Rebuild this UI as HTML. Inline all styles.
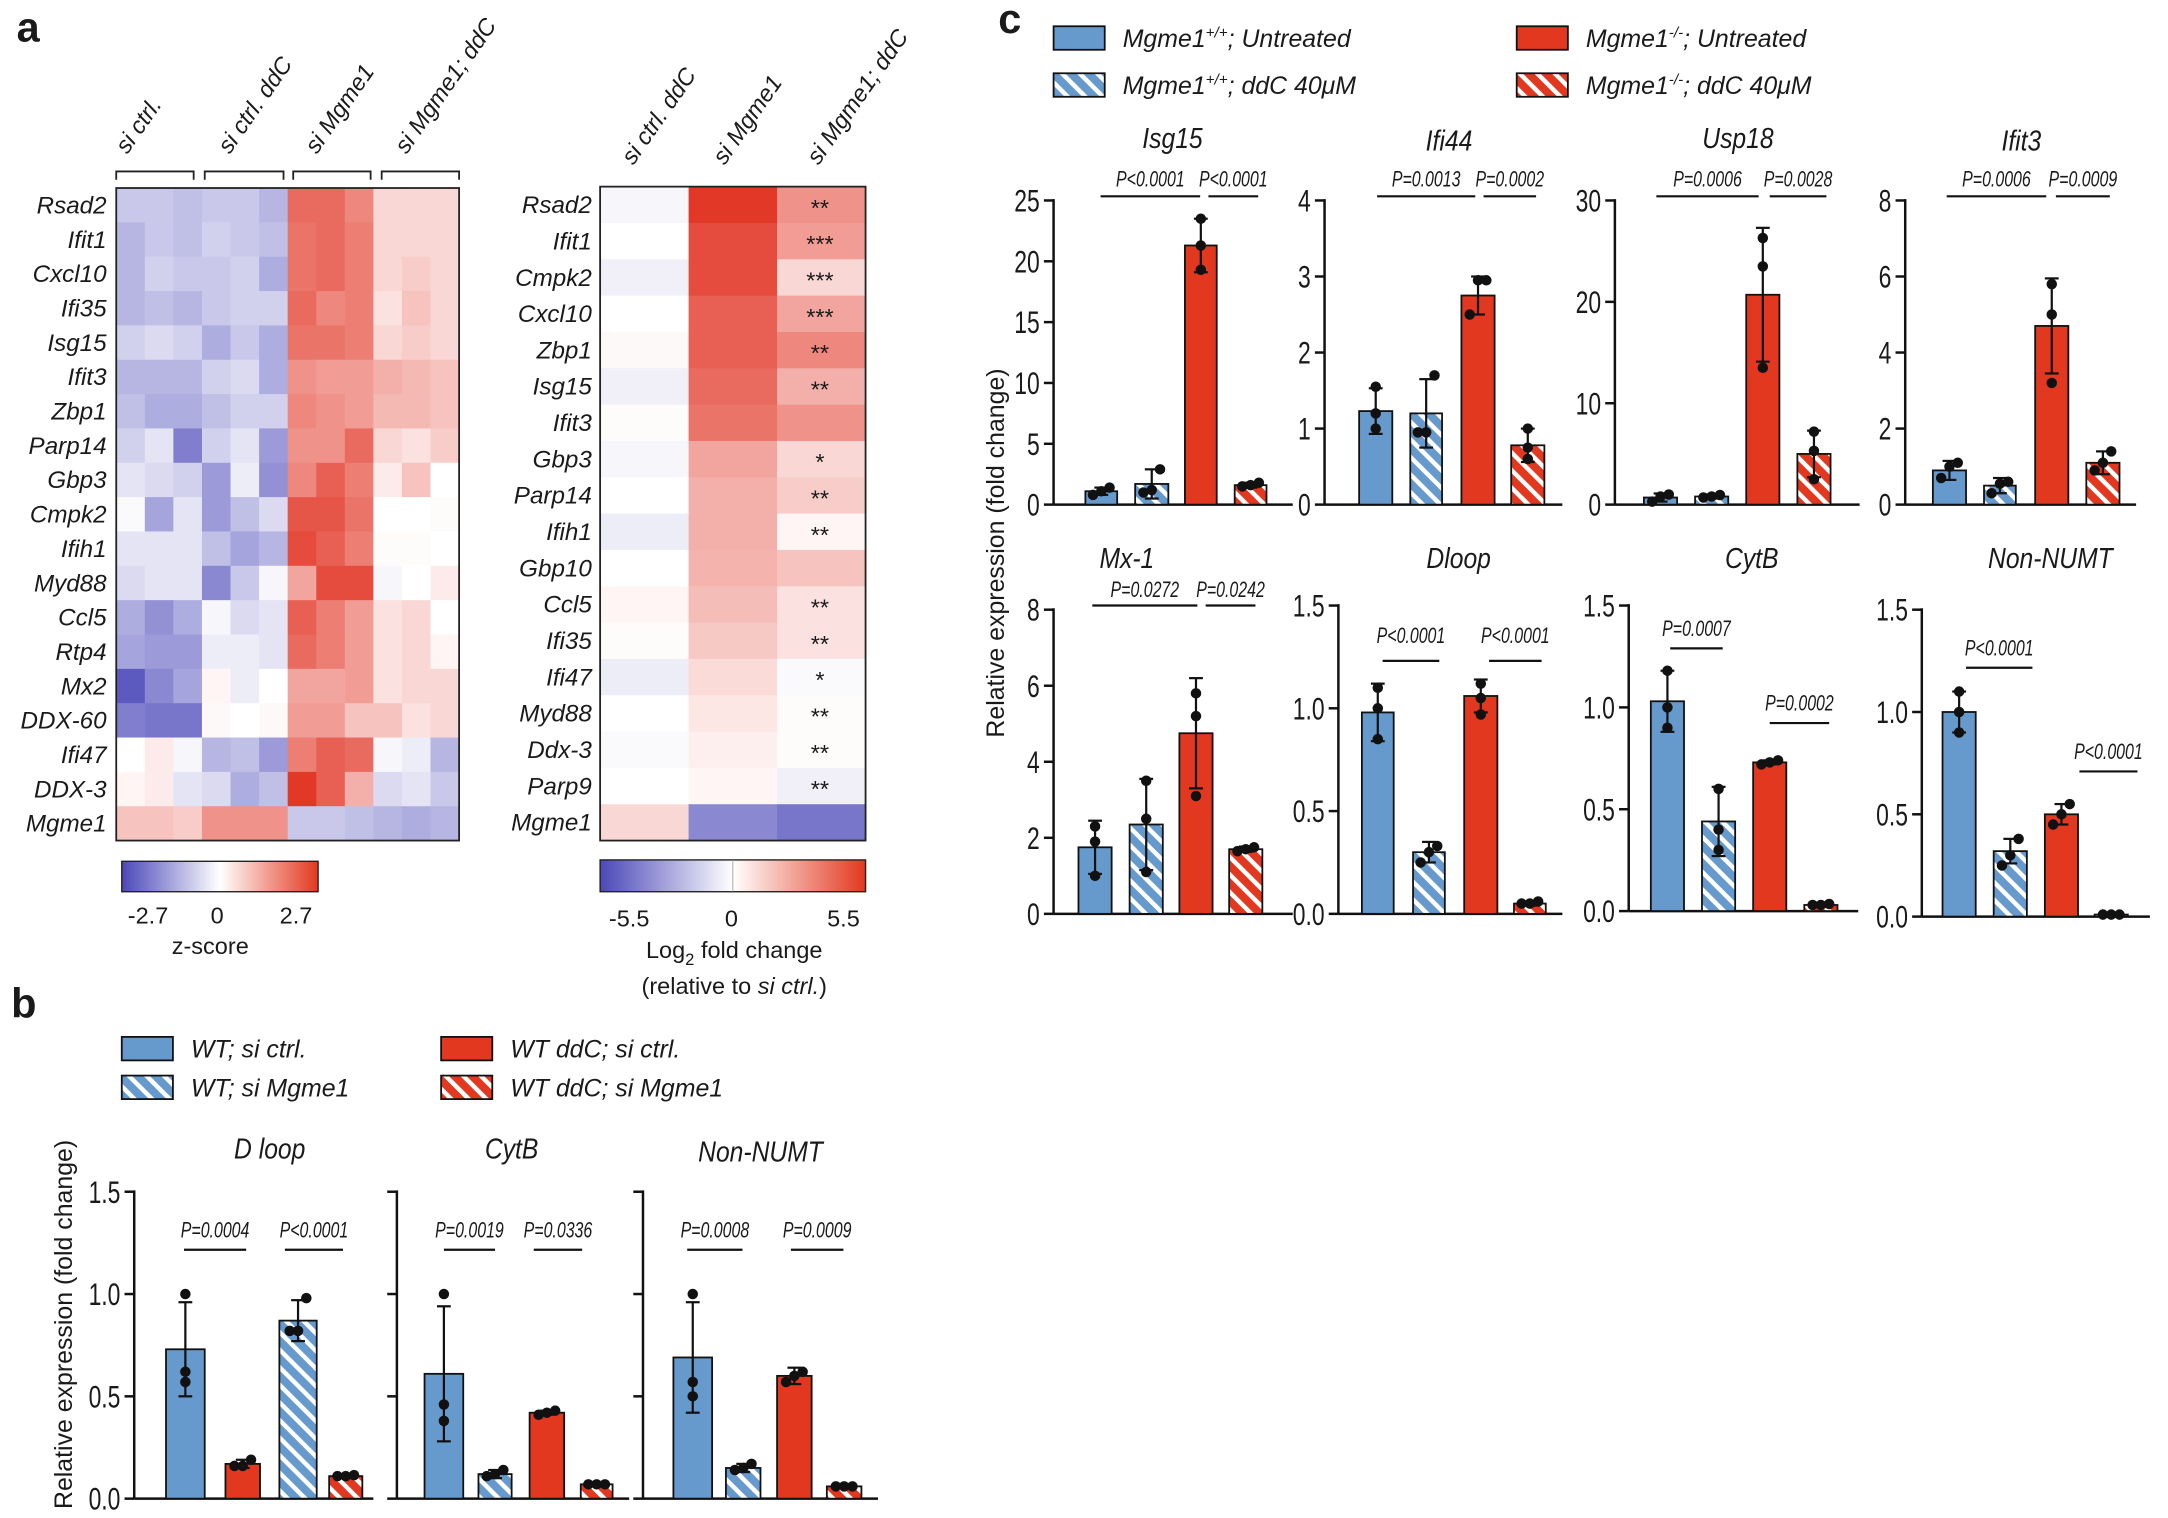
<!DOCTYPE html>
<html><head><meta charset="utf-8"><style>
html,body{margin:0;padding:0;background:#fff}
svg{display:block}
text{font-family:"Liberation Sans",Arial,sans-serif;fill:#1a1a1a}
</style></head><body>
<svg id="s" width="2168" height="1518" viewBox="0 0 1568 1098" xmlns="http://www.w3.org/2000/svg">
<defs>
<pattern id="hb" width="9" height="9" patternUnits="userSpaceOnUse" patternTransform="rotate(-45)">
<rect width="9" height="9" fill="#6699cc"/><rect x="0" y="0" width="3.2" height="9" fill="#fff"/></pattern>
<pattern id="hr" width="9" height="9" patternUnits="userSpaceOnUse" patternTransform="rotate(-45)">
<rect width="9" height="9" fill="#e2381f"/><rect x="0" y="0" width="3.2" height="9" fill="#fff"/></pattern>
<linearGradient id="cb" x1="0" x2="1" y1="0" y2="0">
<stop offset="0" stop-color="#4b48b8"/><stop offset="0.5" stop-color="#ffffff"/><stop offset="1" stop-color="#e2381f"/></linearGradient>
</defs>
<g id="g"></g>
</svg>
<script>
var out=[];
function T(x,y,s,sz,opt){opt=opt||{};var tr=opt.t;var px=x,py=y;
 if(opt.sx){tr='translate('+x+' '+y+') scale('+opt.sx+' 1)';px=0;py=0;}
 out.push('<text x="'+px+'" y="'+py+'" font-size="'+sz+'"'+(opt.a?' text-anchor="'+opt.a+'"':'')+(opt.i?' font-style="italic"':'')+(opt.b?' font-weight="bold"':'')+(tr?' transform="'+tr+'"':'')+'>'+s+'</text>');}
function L(x1,y1,x2,y2,w){out.push('<line x1="'+x1+'" y1="'+y1+'" x2="'+x2+'" y2="'+y2+'" stroke="#111" stroke-width="'+(w||1.6)+'"/>');}
function R(x,y,w,h,f,st){out.push('<rect x="'+x+'" y="'+y+'" width="'+w+'" height="'+h+'" fill="'+f+'"'+(st?' stroke="#111" stroke-width="1.3"':'')+'/>');}
function col(v){var e=v>=0?[226,56,40]:[75,72,184];var a=Math.min(1,Math.abs(v));return 'rgb('+e.map(function(c){return Math.round(255+(c-255)*a)}).join(',')+')';}
T(12,30,'a',30,{b:1});T(8,736,'b',30,{b:1});T(722,24,'c',30,{b:1});
var ga=['Rsad2','Ifit1','Cxcl10','Ifi35','Isg15','Ifit3','Zbp1','Parp14','Gbp3','Cmpk2','Ifih1','Myd88','Ccl5','Rtp4','Mx2','DDX-60','Ifi47','DDX-3','Mgme1'];
var da=[
[-.3,-.3,-.35,-.3,-.3,-.4,.75,.75,.6,.2,.2,.2],
[-.4,-.3,-.35,-.25,-.3,-.35,.7,.75,.65,.2,.2,.2],
[-.4,-.25,-.3,-.3,-.25,-.45,.7,.75,.65,.2,.25,.2],
[-.4,-.35,-.4,-.3,-.25,-.25,.75,.6,.65,.15,.3,.2],
[-.25,-.2,-.25,-.45,-.3,-.45,.7,.7,.65,.2,.25,.2],
[-.4,-.4,-.4,-.25,-.2,-.45,.55,.5,.5,.4,.35,.3],
[-.35,-.45,-.45,-.35,-.25,-.25,.6,.55,.5,.35,.35,.3],
[-.25,-.15,-.7,-.25,-.15,-.55,.55,.55,.75,.2,.15,.25],
[-.15,-.2,-.25,-.55,-.1,-.6,.6,.8,.65,.1,.3,0],
[-.03,-.5,-.15,-.55,-.35,-.2,.85,.85,.7,0,0,.02],
[-.15,-.15,-.15,-.35,-.5,-.4,.9,.8,.65,.02,.02,0],
[-.2,-.15,-.15,-.65,-.3,-.05,.45,.9,.9,-.05,0,.1],
[-.45,-.6,-.45,-.05,-.2,-.15,.8,.65,.5,.15,.2,0],
[-.5,-.55,-.55,-.1,-.1,-.15,.75,.65,.5,.15,.2,.05],
[-.9,-.65,-.5,.05,-.1,0,.45,.45,.5,.15,.2,.2],
[-.7,-.75,-.75,.03,0,.03,.5,.5,.3,.3,.15,.2],
[0,.1,-.05,-.4,-.35,-.55,.65,.8,.75,-.05,-.1,-.4],
[.05,.1,-.15,-.2,-.45,-.35,1,.8,.4,-.2,-.15,-.3],
[.3,.3,.25,.55,.55,.55,-.3,-.3,-.35,-.4,-.45,-.4]];
var ax0=84,ay0=136,cw=248/12,rh=472/19;
for(var r=0;r<19;r++){for(var c=0;c<12;c++)R((ax0+c*cw).toFixed(2),(ay0+r*rh).toFixed(2),(cw+.4).toFixed(2),(rh+.4).toFixed(2),col(da[r][c]));
T(77,ay0+r*rh+rh/2+6,ga[r],17.5,{a:'end',i:1});}
out.push('<rect x="84" y="136" width="248" height="472" fill="none" stroke="#222" stroke-width="1.3"/>');
[[84,140],[148,205],[212,268],[276,332]].forEach(function(b){out.push('<path d="M'+b[0]+' 130 V124 H'+b[1]+' V130" fill="none" stroke="#222" stroke-width="1.3"/>');});
[['si ctrl.',92,112],['si ctrl. ddC',166,112],['si Mgme1',229,112],['si Mgme1; ddC',294,112]].forEach(function(l){T(l[1],l[2],l[0],17,{i:1,t:'rotate(-55 '+l[1]+' '+l[2]+')'});});
R(88,623,142,22,'url(#cb)');out.push('<rect x="88" y="623" width="142" height="22" fill="none" stroke="#222" stroke-width="1"/>');
T(107,668,'-2.7',17,{a:'middle'});T(157,668,'0',17,{a:'middle'});T(214,668,'2.7',17,{a:'middle'});T(152,690,'z-score',17,{a:'middle'});
var gb=['Rsad2','Ifit1','Cmpk2','Cxcl10','Zbp1','Isg15','Ifit3','Gbp3','Parp14','Ifih1','Gbp10','Ccl5','Ifi35','Ifi47','Myd88','Ddx-3','Parp9','Mgme1'];
var db=[[-.05,1,.55],[0,.9,.5],[-.08,.9,.2],[0,.8,.45],[.03,.8,.6],[-.08,.75,.4],[.02,.7,.55],[-.05,.45,.2],[0,.4,.25],[-.1,.4,.05],[0,.38,.3],[.05,.33,.15],[.02,.27,.15],[-.1,.18,-.03],[0,.12,.02],[-.03,.08,.02],[0,.05,-.08],[.2,-.65,-.75]];
var st=['**','***','***','***','**','**','','*','**','**','','**','**','*','**','**','**',''];
var bx0=434,by0=135,bw=192/3,bh=473/18;
for(r=0;r<18;r++){for(c=0;c<3;c++)R((bx0+c*bw).toFixed(2),(by0+r*bh).toFixed(2),(bw+.4).toFixed(2),(bh+.4).toFixed(2),col(db[r][c]));
T(428,by0+r*bh+bh/2+6,gb[r],17.5,{a:'end',i:1});
if(st[r])T(593,by0+r*bh+bh/2+8,st[r],17,{a:'middle'});}
out.push('<rect x="434" y="135" width="192" height="473" fill="none" stroke="#222" stroke-width="1.3"/>');
[['si ctrl. ddC',458,120],['si Mgme1',524,120],['si Mgme1; ddC',592,120]].forEach(function(l){T(l[1],l[2],l[0],17,{i:1,t:'rotate(-55 '+l[1]+' '+l[2]+')'});});
R(434,622,192,23,'url(#cb)');out.push('<rect x="434" y="622" width="192" height="23" fill="none" stroke="#222" stroke-width="1"/>');
out.push('<line x1="530" y1="622" x2="530" y2="645" stroke="#999" stroke-width="0.6"/>');
T(455,670,'-5.5',17,{a:'middle'});T(529,670,'0',17,{a:'middle'});T(610,670,'5.5',17,{a:'middle'});
out.push('<text x="531" y="693" font-size="17" text-anchor="middle">Log<tspan font-size="12" dy="5">2</tspan><tspan dy="-5"> fold change</tspan></text>');
out.push('<text x="531" y="719" font-size="17" text-anchor="middle">(relative to <tspan font-style="italic">si ctrl.</tspan>)</text>');
var F={b:'#6699cc',bh:'url(#hb)',r:'#e2381f',rh:'url(#hr)'};
function chart(o){
 var sc=(o.y0-o.yt)/o.max;function Y(v){return o.y0-v*sc;}
 L(o.ax,o.yt-1,o.ax,o.y0,1.8);L(o.ax,o.y0,o.xe,o.y0,1.8);
 o.ticks.forEach(function(t){L(o.ax-7,Y(t),o.ax,Y(t),1.8);if(!o.nolab)T(o.ax-10,Y(t)+8,o.fmt?t.toFixed(1):t,23,{a:'end',sx:0.72});});
 o.bars.forEach(function(b){var x=b[0],w=b[1]-b[0],cx=(b[0]+b[1])/2,v=b[3];
  R(x,Y(v),w,o.y0-Y(v),F[b[2]],1);
  var e=b[4];if(e){L(cx,Y(v-e),cx,Y(v+e),1.6);L(cx-5,Y(v+e),cx+5,Y(v+e),1.6);L(cx-5,Y(v-e),cx+5,Y(v-e),1.6);}
  var p=b[5]||[v*.95,v,v*1.05];var dx=[-6,0,6];
  p.forEach(function(pv,i){out.push('<circle cx="'+(cx+(b[6]?dx[i]:0))+'" cy="'+Y(pv)+'" r="3.8" fill="#111"/>');});
 });
 T(o.tx,o.ty,o.title,21,{a:'middle',i:1,sx:0.85});
 o.sig.forEach(function(s){L(s[0],s[2],s[1],s[2],1.6);T((s[0]+s[1])/2,s[3],s[4],16,{a:'middle',i:1,sx:0.72});});
}
chart({ax:762,y0:365,yt:145,max:25,ticks:[0,5,10,15,20,25],xe:935,title:'Isg15',tx:848,ty:107,
 bars:[[785,808,'b',1.1,.3,[.8,1.1,1.4],1],[821,845,'bh',1.7,1.2,[1,1.2,2.9],1],[857,880,'r',21.3,2.2,[19.3,21.3,23.5]],[893,916,'rh',1.6,.2,[1.5,1.6,1.8],1]],
 sig:[[796,868,142,135,'P&lt;0.0001'],[874,910,142,135,'P&lt;0.0001']]});
chart({ax:958,y0:365,yt:145,max:4,ticks:[0,1,2,3,4],xe:1130,title:'Ifi44',tx:1048,ty:109,
 bars:[[983,1007,'b',1.23,.3,[1,1.2,1.55]],[1020,1043,'bh',1.2,.45,[.95,.95,1.7],1],[1057,1081,'r',2.75,.25,[2.5,2.95,2.95],1],[1093,1117,'rh',.78,.22,[.6,.75,1.0]]],
 sig:[[996,1067,142,135,'P=0.0013'],[1073,1111,142,135,'P=0.0002']]});
chart({ax:1168,y0:365,yt:145,max:30,ticks:[0,10,20,30],xe:1345,title:'Usp18',tx:1257,ty:107,
 bars:[[1189,1213,'b',.7,.4,[.3,.8,1],1],[1226,1250,'bh',.8,.2,[.7,.8,.95],1],[1263,1287,'r',20.7,6.6,[13.5,23.5,26.3]],[1300,1324,'rh',5,2.3,[2.5,5.3,7.2]]],
 sig:[[1198,1272,142,135,'P=0.0006'],[1280,1321,142,135,'P=0.0028']]});
chart({ax:1378,y0:365,yt:145,max:8,ticks:[0,2,4,6,8],xe:1545,title:'Ifit3',tx:1462,ty:109,
 bars:[[1398,1422,'b',.9,.25,[.7,1,1.1],1],[1435,1458,'bh',.5,.2,[.3,.55,.6],1],[1472,1496,'r',4.7,1.25,[3.2,5.0,5.8]],[1509,1533,'rh',1.1,.3,[.9,1.1,1.4],1]],
 sig:[[1408,1480,142,135,'P=0.0006'],[1487,1526,142,135,'P=0.0009']]});
chart({ax:762,y0:661,yt:441,max:8,ticks:[0,2,4,6,8],xe:935,title:'Mx-1',tx:815,ty:411,
 bars:[[780,804,'b',1.75,.7,[1.0,1.9,2.3]],[817,841,'bh',2.35,1.2,[1.1,2.5,3.5]],[853,877,'r',4.75,1.45,[3.1,5.2,5.8]],[889,913,'rh',1.7,.07,[1.65,1.7,1.75],1]],
 sig:[[790,866,438,432,'P=0.0272'],[872,908,438,432,'P=0.0242']]});
chart({ax:968,y0:661,yt:438,max:1.5,fmt:1,ticks:[0,.5,1,1.5],xe:1130,title:'Dloop',tx:1055,ty:411,
 bars:[[985,1008,'b',.98,.14,[.85,1.0,1.1]],[1022,1045,'bh',.3,.05,[.25,.3,.33],1],[1059,1083,'r',1.06,.08,[.97,1.05,1.12]],[1095,1118,'rh',.05,.01,[.05,.05,.06],1]],
 sig:[[1000,1041,478,465,'P&lt;0.0001'],[1077,1115,478,465,'P&lt;0.0001']]});
chart({ax:1178,y0:659,yt:438,max:1.5,fmt:1,ticks:[0,.5,1,1.5],xe:1344,title:'CytB',tx:1267,ty:411,
 bars:[[1194,1218,'b',1.03,.15,[.9,1.0,1.18]],[1231,1255,'bh',.44,.17,[.3,.4,.6]],[1268,1292,'r',.73,.01,[.72,.73,.74],1],[1305,1329,'rh',.03,.01,[.03,.03,.035],1]],
 sig:[[1208,1246,469,460,'P=0.0007'],[1280,1323,523,514,'P=0.0002']]});
chart({ax:1390,y0:663,yt:441,max:1.5,fmt:1,ticks:[0,.5,1,1.5],xe:1555,title:'Non-NUMT',tx:1483,ty:411,
 bars:[[1405,1429,'b',1.0,.1,[.9,1.0,1.1]],[1442,1466,'bh',.32,.06,[.25,.3,.38],1],[1479,1503,'r',.5,.05,[.45,.5,.55],1],[1515,1539,'rh',.01,0,[.01,.01,.01],1]],
 sig:[[1422,1470,483,474,'P&lt;0.0001'],[1504,1546,558,549,'P&lt;0.0001']]});
T(726,400,'Relative expression (fold change)',18,{a:'middle',t:'rotate(-90 726 400)'});
chart({ax:97,y0:1084,yt:862,max:1.5,fmt:1,ticks:[0,.5,1,1.5],xe:270,title:'D loop',tx:195,ty:838,
 bars:[[120,148,'b',.73,.23,[.57,.62,1.0]],[163,188,'r',.17,.02,[.16,.16,.19],1],[202,229,'bh',.87,.1,[.82,.82,.98],1],[238,262,'rh',.11,.01,[.11,.11,.115],1]],
 sig:[[133,178,904,895,'P=0.0004'],[206,248,904,895,'P&lt;0.0001']]});
chart({ax:287,y0:1084,yt:862,max:1.5,nolab:1,ticks:[0,.5,1,1.5],xe:455,title:'CytB',tx:370,ty:838,
 bars:[[307,335,'b',.61,.33,[.38,.46,1.0]],[346,370,'bh',.12,.02,[.11,.12,.14],1],[383,408,'r',.42,.01,[.41,.42,.43],1],[420,443,'rh',.07,.005,[.07,.07,.07],1]],
 sig:[[321,358,904,895,'P=0.0019'],[386,421,904,895,'P=0.0336']]});
chart({ax:465,y0:1084,yt:862,max:1.5,nolab:1,ticks:[0,.5,1,1.5],xe:635,title:'Non-NUMT',tx:550,ty:840,
 bars:[[487,515,'b',.69,.27,[.5,.57,1.0]],[525,550,'bh',.15,.02,[.14,.15,.17],1],[562,587,'r',.6,.04,[.57,.6,.62],1],[598,623,'rh',.06,.005,[.06,.06,.06],1]],
 sig:[[497,537,904,895,'P=0.0008'],[572,610,904,895,'P=0.0009']]});
T(52,958,'Relative expression (fold change)',18,{a:'middle',t:'rotate(-90 52 958)'});
function leg(x,y,f,html){R(x,y,37,17,f,1);out.push('<text x="'+(x+50)+'" y="'+(y+15)+'" font-size="18" font-style="italic">'+html+'</text>');}
leg(762,19,F.b,'Mgme1<tspan font-size="11" dy="-7">+/+</tspan><tspan dy="7">; Untreated</tspan>');
leg(762,53,F.bh,'Mgme1<tspan font-size="11" dy="-7">+/+</tspan><tspan dy="7">; ddC 40μM</tspan>');
leg(1097,19,F.r,'Mgme1<tspan font-size="11" dy="-7">-/-</tspan><tspan dy="7">; Untreated</tspan>');
leg(1097,53,F.rh,'Mgme1<tspan font-size="11" dy="-7">-/-</tspan><tspan dy="7">; ddC 40μM</tspan>');
leg(88,750,F.b,'WT; si ctrl.');leg(88,778,F.bh,'WT; si Mgme1');
leg(319,750,F.r,'WT ddC; si ctrl.');leg(319,778,F.rh,'WT ddC; si Mgme1');
document.getElementById('g').innerHTML=out.join('');
</script>
</body></html>
